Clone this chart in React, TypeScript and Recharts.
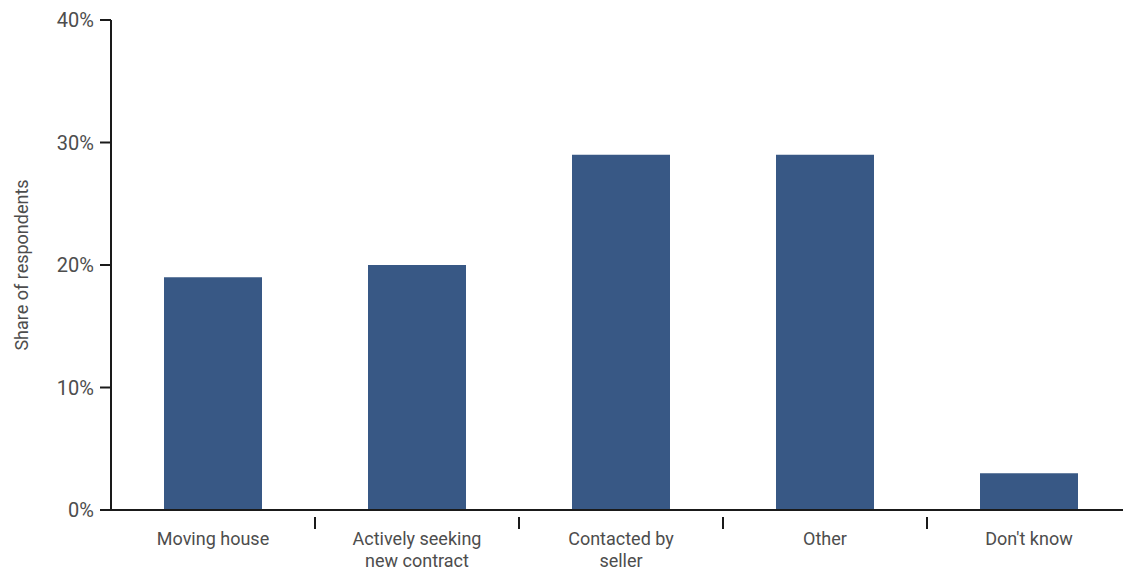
import { BarChart, Bar, XAxis, YAxis, Label } from 'recharts';

const categories = ['Moving house', 'Actively seeking new contract', 'Contacted by seller', 'Other', "Don't know"];
const shares = [19, 20, 29, 29, 3];
const tickLines: Record<string, string[]> = {
  'Moving house': ['Moving house'],
  'Actively seeking new contract': ['Actively seeking', 'new contract'],
  'Contacted by seller': ['Contacted by', 'seller'],
  Other: ['Other'],
  "Don't know": ["Don't know"],
};
const yTicks = [0, 10, 20, 30, 40];

const data = categories.map((name, i) => ({ name, value: shares[i] }));

const CHART_W = 1131;
const CHART_H = 573;
const Y_AXIS_W = 111;
const BAND = (CHART_W - Y_AXIS_W) / categories.length;
const FONT = 'Roboto, "Noto Sans", sans-serif';
const TEXT = '#4d4d4d';
const AXIS = '#1a1a1a';

const CategoryTick = (props: any) => {
  const { x, y, payload, index } = props;
  const lines = tickLines[payload.value] ?? [payload.value];
  const last = index === categories.length - 1;
  return (
    <g>
      {!last && (
        <line x1={x + BAND / 2} x2={x + BAND / 2} y1={y - 1} y2={y + 11} stroke={AXIS} strokeWidth={2} />
      )}
      <text x={x} y={y + 27} textAnchor="middle" fill={TEXT} fontSize={18} fontFamily={FONT}>
        {lines.map((l, i) => (
          <tspan key={i} x={x} dy={i === 0 ? 0 : 22}>
            {l}
          </tspan>
        ))}
      </text>
    </g>
  );
};

export default function App() {
  return (
    <div style={{ position: 'absolute', left: 0, top: 0, width: 1123, height: CHART_H, overflow: 'hidden', background: '#fff' }}>
      <BarChart width={CHART_W} height={CHART_H} data={data} margin={{ top: 20, right: 0, bottom: 0, left: 0 }} barCategoryGap={0}>
        <XAxis
          dataKey="name"
          height={63}
          axisLine={{ stroke: AXIS, strokeWidth: 2 }}
          tickLine={false}
          tick={<CategoryTick />}
          interval={0}
        />
        <YAxis
          width={Y_AXIS_W}
          domain={[0, 40]}
          ticks={yTicks}
          tickFormatter={(v) => `${v}%`}
          axisLine={{ stroke: AXIS, strokeWidth: 2 }}
          tickLine={{ stroke: AXIS, strokeWidth: 2 }}
          tickSize={11}
          tickMargin={6}
          tick={{ fill: TEXT, fontSize: 20, fontFamily: FONT }}
        >
          <Label
            content={({ viewBox }: any) => {
              const cy = viewBox.y + viewBox.height / 2;
              return (
                <text
                  x={21}
                  y={cy}
                  transform={`rotate(-90, 21, ${cy})`}
                  textAnchor="middle"
                  dominantBaseline="central"
                  fill={TEXT}
                  fontSize={18}
                  fontFamily={FONT}
                >
                  Share of respondents
                </text>
              );
            }}
          />
        </YAxis>
        <Bar dataKey="value" fill="#385885" barSize={98} isAnimationActive={false} />
      </BarChart>
    </div>
  );
}
